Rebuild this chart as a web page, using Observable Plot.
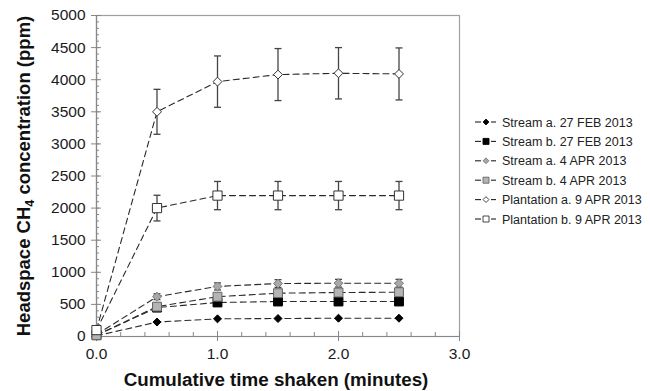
<!DOCTYPE html>
<html>
<head>
<meta charset="utf-8">
<script src="https://cdn.jsdelivr.net/npm/d3@7"></script>
<script src="https://cdn.jsdelivr.net/npm/@observablehq/plot@0.6"></script>
<style>
  body { margin: 0; background: #fff; }
  #chart { position: relative; width: 650px; height: 391px; }
</style>
</head>
<body>
<div id="chart"></div>
<script>
const times = [0, 0.5, 1.0, 1.5, 2.0, 2.5];
const seriesNames = [
  "Stream a. 27 FEB 2013",
  "Stream b. 27 FEB 2013",
  "Stream a. 4 APR 2013",
  "Stream b. 4 APR 2013",
  "Plantation a. 9 APR 2013",
  "Plantation b. 9 APR 2013"
];
const streamA_Feb = [10, 225, 275, 280, 285, 285];
const streamB_Feb = [20, 450, 530, 545, 545, 545];
const streamA_Apr = [30, 620, 780, 825, 830, 830];
const streamB_Apr = [20, 465, 620, 675, 685, 690];
const plantA_Apr = [100, 3500, 3970, 4080, 4100, 4090];
const plantB_Apr = [100, 2000, 2195, 2195, 2195, 2195];

const errStreamA_Feb = [0, 0, 0, 0, 0, 0];
const errStreamB_Feb = [0, 0, 0, 0, 0, 0];
const errStreamA_Apr = [0, 45, 55, 60, 60, 60];
const errStreamB_Apr = [0, 0, 0, 0, 0, 0];
const errPlantA = [0, 350, 400, 405, 400, 405];
const errPlantB = [0, 200, 220, 220, 220, 220];

const yTicks = [0, 500, 1000, 1500, 2000, 2500, 3000, 3500, 4000, 4500, 5000];
const xTicks = [0, 1, 2, 3];

const styles = [
  {symbol: "diamond2", fill: "#000", stroke: "#000", r: 3.6},
  {symbol: "square", fill: "#000", stroke: "#000", r: 5.0},
  {symbol: "diamond2", fill: "#a8a8a8", stroke: "#777", r: 4.0},
  {symbol: "square", fill: "#b4b4b4", stroke: "#666", r: 5.0},
  {symbol: "diamond2", fill: "#fff", stroke: "#333", r: 4.0},
  {symbol: "square", fill: "#fff", stroke: "#333", r: 5.2}
];
const values = [streamA_Feb, streamB_Feb, streamA_Apr, streamB_Apr, plantA_Apr, plantB_Apr];
const errors = [errStreamA_Feb, errStreamB_Feb, errStreamA_Apr, errStreamB_Apr, errPlantA, errPlantB];

const data = [];
seriesNames.forEach((s, i) => {
  times.forEach((t, j) => {
    data.push({series: s, idx: i, t, v: values[i][j], e: errors[i][j]});
  });
});
const errData = data.filter(d => d.e > 0);

const capSymbol = {
  draw(ctx, size) { ctx.moveTo(-3.5, 0); ctx.lineTo(3.5, 0); }
};

const dotMarks = styles.map((st, i) =>
  Plot.dot(data.filter(d => d.idx === i), {
    x: "t", y: "v", symbol: st.symbol, r: st.r,
    fill: st.fill, stroke: st.stroke, strokeWidth: 1
  })
);

const plot = Plot.plot({
  width: 650,
  height: 391,
  marginLeft: 96,
  marginRight: 191,
  marginTop: 15,
  marginBottom: 55,
  style: {background: "#fff", fontFamily: "'Liberation Sans', Arial, sans-serif", color: "#222"},
  x: {domain: [0, 3], label: null},
  y: {domain: [0, 5000], label: null},
  marks: [
    Plot.frame({stroke: "#a0a0a0", strokeWidth: 1.2}),
    // minor ticks
    Plot.axisY({ticks: d3.range(0, 5001, 100), tickSize: -3, text: null, label: null, stroke: "#888"}),
    Plot.axisX({ticks: d3.range(0, 3.01, 0.2), tickSize: -4, text: null, label: null, stroke: "#888"}),
    // major ticks crossing
    Plot.axisY({ticks: yTicks, tickSize: -5, text: null, label: null, stroke: "#888"}),
    Plot.axisX({ticks: xTicks, tickSize: -5, text: null, label: null, stroke: "#888"}),
    Plot.axisY({ticks: yTicks, tickSize: 5, tickPadding: 6, fontSize: 15.5, label: null, stroke: "#888", color: "#1a1a1a", tickFormat: d3.format("d")}),
    Plot.axisX({ticks: xTicks, tickSize: 5, tickPadding: 6, fontSize: 15.5, label: null, stroke: "#888", color: "#1a1a1a", tickFormat: d3.format(".1f")}),
    Plot.ruleY([0], {stroke: "#888", strokeWidth: 1.2}),
    Plot.ruleX([0], {stroke: "#888", strokeWidth: 1.2}),
    Plot.line(data, {x: "t", y: "v", z: "series", stroke: "#2a2a2a", strokeWidth: 1.1, strokeDasharray: "6,4"}),
    Plot.link(errData, {x1: "t", x2: "t", y1: d => d.v - d.e, y2: d => d.v + d.e, stroke: "#444", strokeWidth: 1.3}),
    Plot.dot(errData, {x: "t", y: d => d.v - d.e, symbol: capSymbol, r: 3, stroke: "#444", strokeWidth: 1.3, fill: "none"}),
    Plot.dot(errData, {x: "t", y: d => d.v + d.e, symbol: capSymbol, r: 3, stroke: "#444", strokeWidth: 1.3, fill: "none"}),
    ...dotMarks
  ]
});

document.getElementById("chart").appendChild(plot);

const svg = d3.select(plot);
const font = "'Liberation Sans', Arial, sans-serif";

// Y title with subscript
const yt = svg.append("text")
  .attr("transform", "translate(30,176) rotate(-90)")
  .attr("text-anchor", "middle")
  .attr("font-family", font)
  .attr("font-weight", "bold")
  .attr("font-size", 18.5)
  .attr("fill", "#111");
yt.append("tspan").text("Headspace CH");
yt.append("tspan").attr("font-size", 12.5).attr("dy", 4).text("4");
yt.append("tspan").attr("dy", -4).text(" concentration (ppm)");

svg.append("text")
  .attr("x", 276).attr("y", 386)
  .attr("text-anchor", "middle")
  .attr("font-family", font)
  .attr("font-weight", "bold")
  .attr("font-size", 18.8)
  .attr("fill", "#111")
  .text("Cumulative time shaken (minutes)");

// Legend
const lg = svg.append("g").attr("text-anchor", "start");
seriesNames.forEach((name, i) => {
  const y = 122 + i * 19.4;
  const st = styles[i];
  const g = lg.append("g").attr("transform", `translate(0,${y})`);
  g.append("line").attr("x1", 475).attr("x2", 481).attr("y1", 0).attr("y2", 0).attr("stroke", "#222").attr("stroke-width", 1.1);
  g.append("line").attr("x1", 491).attr("x2", 496).attr("y1", 0).attr("y2", 0).attr("stroke", "#222").attr("stroke-width", 1.1);
  const sym = st.symbol === "square" ? d3.symbolSquare : d3.symbolDiamond2;
  const area = st.symbol === "square" ? 36 : 22;
  g.append("path").attr("d", d3.symbol(sym, area)()).attr("transform", "translate(486,0)")
    .attr("fill", st.fill).attr("stroke", st.stroke).attr("stroke-width", 0.9);
  g.append("text").attr("x", 502).attr("y", 0).attr("dy", "0.36em")
    .attr("text-anchor", "start")
    .attr("font-family", font).attr("font-size", 12.5).attr("fill", "#222").text(name);
});
</script>
</body>
</html>
